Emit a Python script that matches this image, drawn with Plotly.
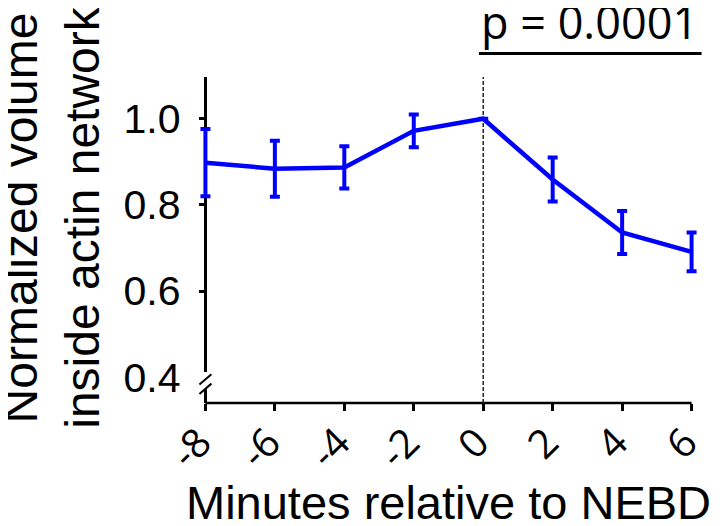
import plotly.graph_objects as go

minutes = [-8, -6, -4, -2, 0, 2, 4, 6]
volume = [0.898, 0.884, 0.887, 0.972, 1.0, 0.859, 0.736, 0.691]
sem = [0.078, 0.065, 0.049, 0.038, 0.0, 0.051, 0.050, 0.045]
x_ticks = [-8, -6, -4, -2, 0, 2, 4, 6]
y_ticks = [0.4, 0.6, 0.8, 1.0]
y_ticktext = ["0.4", "0.6", "0.8", "1.0"]
p_text = "p = 0.0001"

OFF = 8  # default page body margin
X0, X1 = -8, 6          # axis line extent
PAD = 0.3               # extra range so end error bars are not clipped
U = (692 - 205) / (X1 - X0)   # px per minute in reference
left_px = 205 - PAD * U
right_px = 692 + PAD * U

W, H = 725 - OFF, 526 - OFF
L, T = left_px - OFF, 76.5 - OFF
R = W - (right_px - OFF)
B = H - (403.5 - OFF)
PH = H - T - B
PW = W - L - R

def py(px):
    return (403.5 - px) / PH

def pxr(px):
    return (px - left_px) / PW

fig = go.Figure()
fig.add_trace(go.Scatter(
    x=minutes, y=volume, mode="lines",
    line=dict(color="#0000ff", width=4.5),
    error_y=dict(type="data", array=sem, visible=True, color="#0000ff",
                 thickness=4, width=5),
    cliponaxis=False, showlegend=False,
))

fig.update_layout(
    width=W, height=H,
    margin=dict(l=L, r=R, t=T, b=B, autoexpand=False),
    plot_bgcolor="white", paper_bgcolor="white",
    xaxis=dict(range=[X0 - PAD, X1 + PAD], tickvals=x_ticks, ticktext=[str(v) for v in x_ticks],
               tickangle=-45, showline=False,
               ticks="outside", ticklen=7, tickwidth=2.5, tickcolor="black",
               showgrid=False, zeroline=False, ticklabelstandoff=-8, ticklabelshift=-6,
               tickfont=dict(family="Open Sans", size=40, color="black")),
    yaxis=dict(range=[0.34, 1.097], tickvals=y_ticks, ticktext=y_ticktext,
               anchor="free", position=PAD / (X1 - X0 + 2 * PAD), layer="below traces",
               showline=True, linecolor="black", linewidth=2.5,
               ticks="outside", ticklen=6, tickwidth=2.5, tickcolor="black",
               showgrid=False, zeroline=False, ticklabelstandoff=10,
               tickfont=dict(family="Liberation Sans", size=41, color="black")),
)

# x axis line from -8 to 6
fig.add_shape(type="line", xref="x", yref="paper", x0=X0, x1=X1, y0=0, y1=0,
              line=dict(color="black", width=2.5), layer="below")

# dashed line at NEBD
fig.add_shape(type="line", xref="x", yref="paper", x0=0, x1=0, y0=0, y1=1,
              line=dict(color="#222222", width=1.5, dash="4px,2px"), layer="below")

# axis break on y
fig.add_shape(type="rect", xref="x", yref="y", xsizemode="pixel", xanchor=X0,
              x0=-10, x1=3, y0=0.372, y1=0.412, line=dict(width=0),
              fillcolor="white", layer="above")
for yc in [0.395, 0.373]:
    fig.add_shape(type="line", xref="x", yref="y", xsizemode="pixel", xanchor=X0,
                  x0=-6, x1=6, y0=yc - 0.012, y1=yc + 0.012,
                  line=dict(color="black", width=2), layer="above")

# p-value bracket
fig.add_shape(type="line", xref="paper", yref="paper", x0=pxr(479), x1=pxr(702),
              y0=py(53), y1=py(53), line=dict(color="black", width=3))
fig.add_annotation(text=p_text, xref="paper", yref="paper", x=pxr(590), y=py(21),
                   xanchor="center", yanchor="middle", showarrow=False,
                   font=dict(family="Open Sans", size=45, color="black"))

# axis titles
fig.add_annotation(text="Minutes relative to NEBD", xref="paper", yref="paper",
                   x=pxr(448), y=py(503), xanchor="center", yanchor="middle",
                   showarrow=False,
                   font=dict(family="Liberation Sans", size=47, color="black"))
fig.add_annotation(text="Normalized volume<br>inside actin network", xref="paper", yref="paper",
                   x=pxr(50), y=py(217), xanchor="center", yanchor="middle",
                   textangle=-90, showarrow=False,
                   font=dict(family="Liberation Sans", size=48, color="black"))

fig.write_html("out.html")
